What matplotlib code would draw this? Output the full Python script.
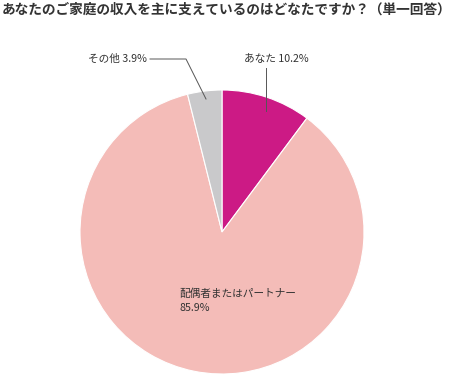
import matplotlib
matplotlib.use('Agg')
import matplotlib.pyplot as plt

plt.rcParams['font.family'] = ['Noto Sans CJK JP', 'DejaVu Sans']

title = 'あなたのご家庭の収入を主に支えているのはどなたですか？（単一回答）'
labels = ['あなた', '配偶者またはパートナー', 'その他']
values = [10.2, 85.9, 3.9]
colors = ['#cc1a85', '#f4bcb8', '#c9c9cb']
txt = '#333333'

W, H = 455, 375
fig = plt.figure(figsize=(W / 100, H / 100), dpi=100)
ax = fig.add_axes([0, 0, 1, 1])

# pie centred at pixel (222, 232), radius 142
cx, cy, r = 222, H - 232, 142
ax.pie(values, colors=colors, startangle=90, counterclock=False,
       center=(cx, cy), radius=r, frame=True,
       wedgeprops=dict(edgecolor='white', linewidth=0.8))
ax.set_xlim(0, W)
ax.set_ylim(0, H)
ax.set_aspect('equal')
ax.axis('off')

fig.text(1.5 / W, 1 - 10 / H, title, fontsize=9.85, fontweight='bold',
         color=txt, ha='left', va='center')

# あなた label + leader
ax.text(276, H - 59, f'{labels[0]} {values[0]}%', fontsize=7.7, color=txt,
        ha='center', va='center')
ax.plot([266, 266], [H - 68, H - 111], color='#555555', lw=0.7)

# その他 label + leader
ax.text(147, H - 59, f'{labels[2]} {values[2]}%', fontsize=7.7, color=txt,
        ha='right', va='center')
ax.plot([150, 186, 206], [H - 59, H - 59, H - 99], color='#555555', lw=0.7)

# 配偶者 label inside slice
ax.text(179, H - 294, labels[1], fontsize=7.7, color=txt, ha='left', va='center')
ax.text(179, H - 308, f'{values[1]}%', fontsize=7.7, color=txt, ha='left', va='center')

fig.savefig('out.png', dpi=100)
